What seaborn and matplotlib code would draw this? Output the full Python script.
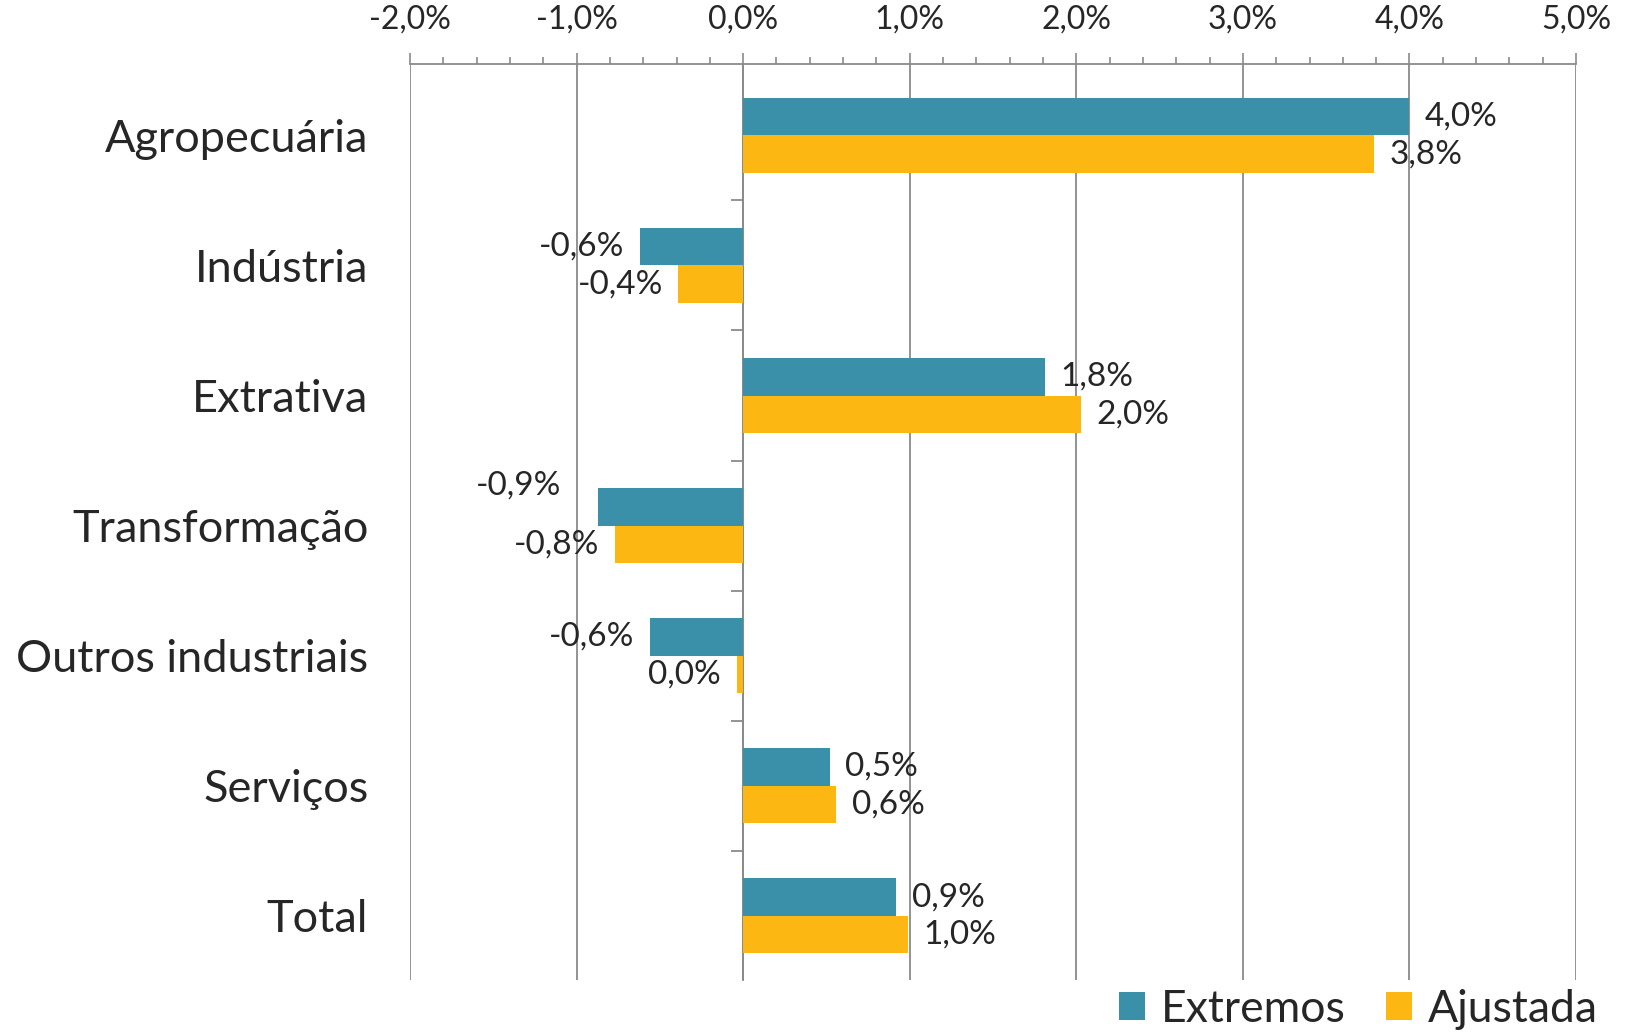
import matplotlib
matplotlib.use("Agg")
import matplotlib.pyplot as plt
import pandas as pd
import seaborn as sns
from matplotlib.patches import Patch
from matplotlib.ticker import MultipleLocator

categories = ["Agropecuária", "Indústria", "Extrativa", "Transformação",
              "Outros industriais", "Serviços", "Total"]
extremos = [4.00, -0.62, 1.81, -0.87, -0.56, 0.52, 0.92]
ajustada = [3.79, -0.39, 2.03, -0.77, -0.04, 0.56, 0.99]
series_names = ["Extremos", "Ajustada"]
colors = ["#3A90A8", "#FDB713"]
x_ticks = [-2, -1, 0, 1, 2, 3, 4, 5]

df = pd.DataFrame({
    "categoria": categories * 2,
    "valor": extremos + ajustada,
    "serie": [series_names[0]] * len(categories) + [series_names[1]] * len(categories),
})

sns.set_style("white")
plt.rcParams["font.family"] = ["Lato", "DejaVu Sans"]
grid_color = "#8a8a8a"

fig = plt.figure(figsize=(16.29, 10.35), dpi=100)
ax = fig.add_axes([0.2517, 0.0535, 0.9675 - 0.2517, 0.8845])

sns.barplot(data=df, y="categoria", x="valor", hue="serie", orient="h",
            palette=colors, saturation=1, width=0.577, linewidth=0,
            legend=False, ax=ax)

ax.set_xlim(x_ticks[0], x_ticks[-1])
ax.set_ylim(len(categories) - 0.51, -0.547)
ax.set_xlabel("")
ax.set_ylabel("")

# top percent axis
ax.xaxis.tick_top()
ax.set_xticks(x_ticks)
ax.set_xticklabels([f"{v:.1f}%".replace(".", ",") for v in x_ticks])
ax.xaxis.set_minor_locator(MultipleLocator(0.2))
ax.tick_params(axis="x", which="major", top=True, bottom=False, length=8,
               width=1.2, color=grid_color, labelsize=23, pad=13)
ax.tick_params(axis="x", which="minor", top=True, bottom=False, length=5,
               width=1.2, color=grid_color)
ax.grid(axis="x", color=grid_color, linewidth=1.3)
ax.grid(axis="y", visible=False)
ax.set_axisbelow(True)

ax.tick_params(axis="y", length=0, labelsize=32.5, pad=30)

for side in ["left", "right", "bottom"]:
    ax.spines[side].set_visible(False)
ax.spines["top"].set_color(grid_color)
ax.spines["top"].set_linewidth(1.3)

# category axis drawn at zero
zero_pos = (0 - x_ticks[0]) / (x_ticks[-1] - x_ticks[0])
sec = ax.secondary_yaxis(zero_pos)
sec.set_yticks([i - 0.5 for i in range(1, len(categories) + 1)])
sec.set_yticklabels([])
sec.tick_params(length=9, width=1.3, color=grid_color, direction="out")
sec.spines["left"].set_color(grid_color)
sec.spines["left"].set_linewidth(1.3)
for side in ["right", "top", "bottom"]:
    sec.spines[side].set_visible(False)

def fmt(v):
    return f"{round(v, 1) + 0.0:.1f}%".replace(".", ",")

label_sets = []
for container, vals in zip(ax.containers, [extremos, ajustada]):
    label_sets.append(ax.bar_label(container, labels=[fmt(v) for v in vals],
                                   padding=11, fontsize=24))

# the Transformação "Extremos" label sits above-left of its bar in the original
t = label_sets[0][3]
t.xyann = (t.xyann[0] - 16, t.xyann[1] + 15)

handles = [Patch(facecolor=c, edgecolor="none", label=n) for c, n in zip(colors, series_names)]
fig.legend(handles=handles, loc="center right", bbox_to_anchor=(0.981, 0.025),
           ncol=2, frameon=False, fontsize=32, handlelength=0.6, handleheight=0.6,
           handletextpad=0.35, columnspacing=0.9, borderpad=0, borderaxespad=0)

fig.savefig("out.png", dpi=100)
